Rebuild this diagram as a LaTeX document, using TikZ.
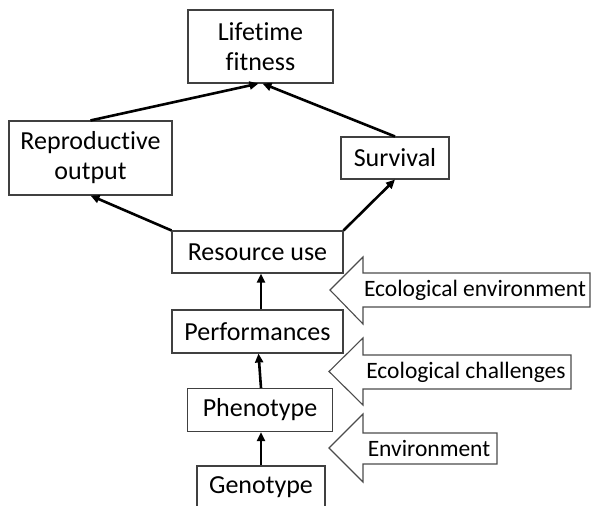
\documentclass[tikz,border=0pt]{standalone}
\usepackage{fontspec}
\setmainfont{Carlito}[Ligatures=NoCommon]
\usetikzlibrary{arrows.meta}
\begin{document}
\begin{tikzpicture}[x=1pt,y=-1pt,
  box/.style={draw=black!75,line width=1.1pt,fill=white,inner sep=0pt,align=center,font=\fontsize{26}{30}\selectfont},
  link/.style={line width=2.6pt,-{Triangle[length=9pt,width=8pt]},shorten >=0pt},
  bigarrow/.style={draw=black!70,line width=1.1pt,fill=white,line join=miter},
  lab/.style={inner sep=0pt,font=\fontsize{23.5}{26}\selectfont}]
\useasboundingbox (0,0) rectangle (592,506);
% boxes
\node[box,minimum width=145pt,minimum height=73pt] (lf) at (260.5,46.5) {Lifetime\\fitness};
\node[box,minimum width=163pt,minimum height=74pt] (ro) at (90.5,158) {Reproductive\\output};
\node[box,minimum width=108pt,minimum height=42pt] (sv) at (395,158) {Survival};
\node[box,minimum width=171pt,minimum height=42pt] (ru) at (257.5,252) {Resource use};
\node[box,minimum width=171pt,minimum height=43pt] (pf) at (257.5,331.5) {Performances};
\node[box,minimum width=145pt,minimum height=43pt] (ph) at (260,410) {Phenotype};
\node[box,minimum width=128pt,minimum height=43pt] (gt) at (261,487.5) {Genotype};
% connectors
\draw[link] (ro.north) -- ([xshift=-2pt]lf.south);
\draw[link] (sv.north) -- ([xshift=2pt]lf.south);
\draw[link] (ru.north west) -- (ro.south);
\draw[link] (ru.north east) -- (sv.south);
\draw[link] ([xshift=3.5pt]pf.north) -- ([xshift=3.5pt]ru.south);
\draw[link] ([xshift=1pt]ph.north) -- ([xshift=1pt]pf.north |- pf.south);
\draw[link] (gt.north) -- (gt.north |- ph.south);
% big arrows
\draw[bigarrow] (330,290) -- (363,257) -- (363,273) -- (590,273) -- (590,307) -- (363,307) -- (363,324) -- cycle;
\node[lab] (ee) at (475,290) {Ecological environment};
\draw[bigarrow] (329,371.5) -- (363,338) -- (363,355) -- (571,355) -- (571,389) -- (363,389) -- (363,405) -- cycle;
\node[lab] (ec) at (466,372) {Ecological challenges};
\draw[bigarrow] (329,448) -- (363,414) -- (363,433) -- (497,433) -- (497,464) -- (363,464) -- (363,482) -- cycle;
\node[lab] (en) at (429,448.5) {Environment};
\end{tikzpicture}
\end{document}
